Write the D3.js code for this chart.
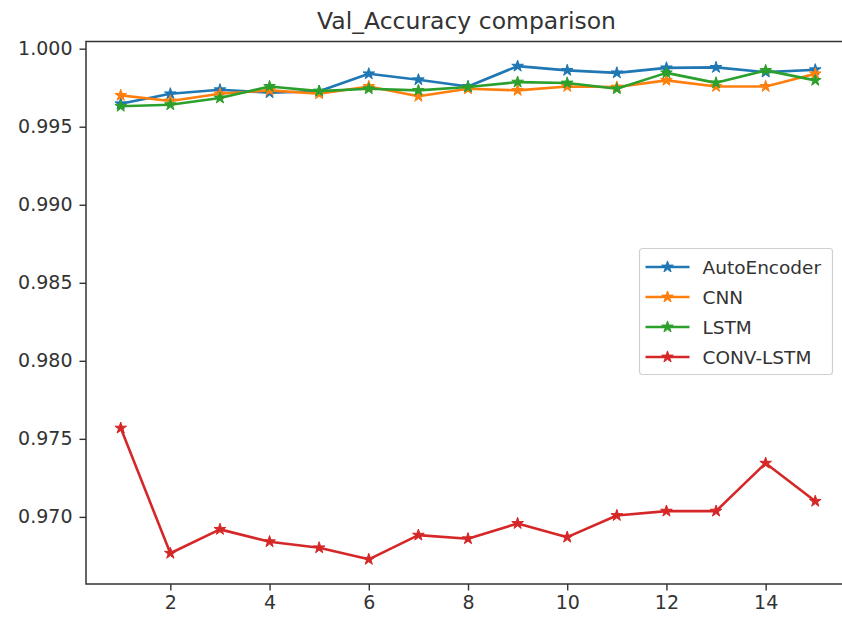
<!DOCTYPE html>
<html>
<head>
<meta charset="utf-8">
<script src="https://cdn.jsdelivr.net/npm/d3@7"></script>
<style>
  html, body { margin: 0; padding: 0; background: #fff; }
  svg { display: block; font-family: "DejaVu Sans", sans-serif; }
</style>
</head>
<body>
<svg id="chart" width="842" height="619"></svg>
<script>
// Epochs and validation accuracy per model
const epochs = [1, 2, 3, 4, 5, 6, 7, 8, 9, 10, 11, 12, 13, 14, 15];
const autoEncoder = [0.99647, 0.99711, 0.99737, 0.99718, 0.99727, 0.99839, 0.99801, 0.99758, 0.99888, 0.99861, 0.99845, 0.99877, 0.9988, 0.9985, 0.99865];
const cnn = [0.99701, 0.99665, 0.99711, 0.99733, 0.99711, 0.99758, 0.99695, 0.99743, 0.99733, 0.99758, 0.99754, 0.99797, 0.99758, 0.99758, 0.99839];
const lstm = [0.99631, 0.99641, 0.99684, 0.99758, 0.99728, 0.99743, 0.99733, 0.99754, 0.99786, 0.9978, 0.99743, 0.99845, 0.99781, 0.99861, 0.99797];
const convLstm = [0.97569, 0.96767, 0.9692, 0.96841, 0.96802, 0.96728, 0.96883, 0.9686, 0.96958, 0.9687, 0.97009, 0.97037, 0.97037, 0.97344, 0.9710];

const seriesNames = ["AutoEncoder", "CNN", "LSTM", "CONV-LSTM"];
const seriesValues = [autoEncoder, cnn, lstm, convLstm];
const seriesColors = ["#1f77b4", "#ff7f0e", "#2ca02c", "#d62728"];

const xTicks = [2, 4, 6, 8, 10, 12, 14];
const yTicks = [0.970, 0.975, 0.980, 0.985, 0.990, 0.995, 1.000];
const title = "Val_Accuracy comparison";

const svg = d3.select("#chart");
const plot = { left: 86, right: 850, top: 41.5, bottom: 584 };

// Axis limits padded by 5% of the data span on each side
const xMin = d3.min(epochs), xMax = d3.max(epochs);
const xPad = (xMax - xMin) * 0.05;
const allVals = seriesValues.flat();
const yMin = d3.min(allVals), yMax = d3.max(allVals);
const yPad = (yMax - yMin) * 0.05;

const x = d3.scaleLinear().domain([xMin - xPad, xMax + xPad]).range([plot.left, plot.right]);
const y = d3.scaleLinear().domain([yMin - yPad, yMax + yPad]).range([plot.bottom, plot.top]);

// Axes
const xAxis = d3.axisBottom(x).tickValues(xTicks).tickFormat(d3.format("d")).tickSizeOuter(0).tickSize(6.5).tickPadding(5);
const yAxis = d3.axisLeft(y).tickValues(yTicks).tickFormat(d3.format(".3f")).tickSizeOuter(0).tickSize(6.5).tickPadding(7);

const gx = svg.append("g").attr("transform", `translate(0,${plot.bottom})`).call(xAxis);
const gy = svg.append("g").attr("transform", `translate(${plot.left},0)`).call(yAxis);
[gx, gy].forEach(g => {
  g.select(".domain").remove();
  g.selectAll(".tick line").attr("stroke", "#333").attr("stroke-width", 1.4);
  g.selectAll(".tick text").attr("fill", "#333").style("font-size", "19px").style("font-family", "DejaVu Sans, sans-serif");
});

// Frame
svg.append("rect")
  .attr("x", plot.left).attr("y", plot.top)
  .attr("width", plot.right - plot.left).attr("height", plot.bottom - plot.top)
  .attr("fill", "none").attr("stroke", "#333").attr("stroke-width", 1.5);

// Title
svg.append("text")
  .attr("x", 466.5).attr("y", 28.5)
  .attr("text-anchor", "middle").attr("fill", "#333")
  .style("font-size", "23.5px")
  .text(title);

const line = d3.line().x((d, i) => x(epochs[i])).y(d => y(d));
const star = d3.symbol().type(d3.symbolStar).size(42);

const clip = svg.append("clipPath").attr("id", "clip")
  .append("rect").attr("x", plot.left).attr("y", plot.top)
  .attr("width", plot.right - plot.left).attr("height", plot.bottom - plot.top);

const plotG = svg.append("g").attr("clip-path", "url(#clip)");

seriesValues.forEach((vals, si) => {
  const g = plotG.append("g");
  g.append("path").datum(vals)
    .attr("d", line).attr("fill", "none")
    .attr("stroke", seriesColors[si]).attr("stroke-width", 2.6)
    .attr("stroke-linejoin", "round").attr("stroke-linecap", "square");
  g.selectAll("path.mk").data(vals).join("path")
    .attr("class", "mk")
    .attr("d", star)
    .attr("transform", (d, i) => `translate(${x(epochs[i])},${y(d)})`)
    .attr("fill", seriesColors[si]).attr("stroke", seriesColors[si]).attr("stroke-width", 1);
});

// Legend
const legend = svg.append("g").attr("transform", "translate(639.5,248.5)");
legend.append("rect")
  .attr("width", 193).attr("height", 126).attr("rx", 3)
  .attr("fill", "#fff").attr("fill-opacity", 0.8)
  .attr("stroke", "#d0d0d0").attr("stroke-width", 1.2);
seriesNames.forEach((name, i) => {
  const row = legend.append("g").attr("transform", `translate(0,${18.5 + i * 30})`);
  row.append("line").attr("x1", 6).attr("x2", 50).attr("y1", 0).attr("y2", 0)
    .attr("stroke", seriesColors[i]).attr("stroke-width", 2.6);
  row.append("path").attr("d", star).attr("transform", "translate(28,0)")
    .attr("fill", seriesColors[i]).attr("stroke", seriesColors[i]).attr("stroke-width", 1);
  row.append("text").attr("x", 63).attr("y", 7).attr("fill", "#333")
    .style("font-size", "18.5px").text(name);
});
</script>
</body>
</html>
